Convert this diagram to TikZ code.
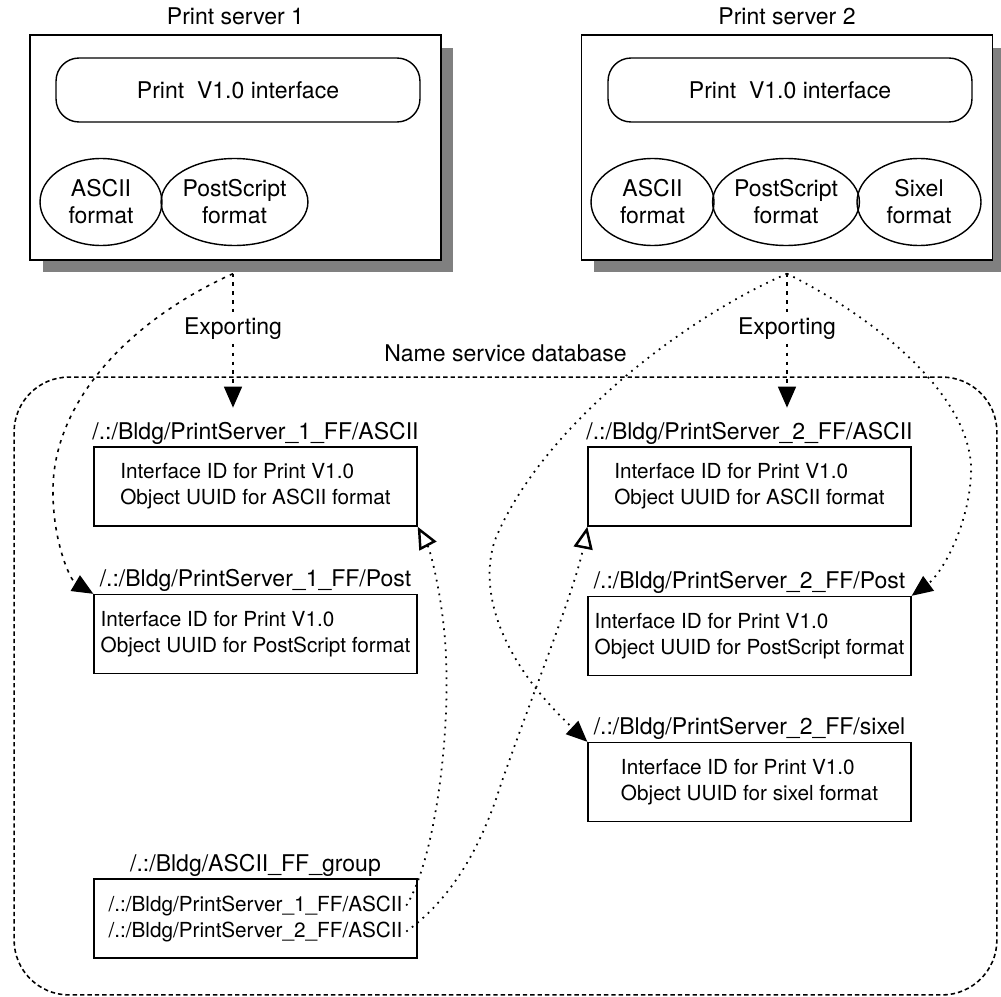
\documentclass[tikz,border=0pt]{standalone}
\usepackage{fontspec}
\setmainfont{TeX Gyre Heros}
\usetikzlibrary{positioning,calc}
\usetikzlibrary{arrows.meta,shapes.geometric,shadows}
\definecolor{ShadowGray}{RGB}{128,128,128}
\newcommand{\bigfont}{\fontsize{13.1}{15.3}\selectfont}
\newcommand{\entfont}{\fontsize{11.8}{14.8}\selectfont}
\tikzset{
	srvbox/.style={draw=black,fill=white,line width=0.8pt,minimum width=8.22cm,minimum height=4.5cm,
		drop shadow={shadow xshift=0.25cm,shadow yshift=-0.25cm,fill=ShadowGray,opacity=1}},
	ifbox/.style={draw=black,line width=0.8pt,rounded corners=0.46cm,minimum width=7.28cm,
		minimum height=1.28cm,font=\bigfont},
	fmt/.style={ellipse,draw=black,line width=0.8pt,inner sep=0pt,minimum height=1.74cm,
		align=center,font=\bigfont},
	entry/.style={draw=black,line width=0.8pt,minimum width=6.46cm,minimum height=1.58cm,
		align=left,font=\entfont},
	lbl/.style={inner sep=0pt,font=\bigfont},
	export/.style={line width=0.9pt,dash pattern=on 2pt off 3pt,
		-{Triangle[length=0.42cm,width=0.36cm]}},
	link/.style={line width=1pt,dash pattern=on 1pt off 3pt,
		-{Triangle[length=0.42cm,width=0.36cm]}},
	grplink/.style={line width=1pt,dash pattern=on 1pt off 3pt,
		-{Triangle[open,length=0.44cm,width=0.38cm,line width=1.4pt]}},
	nsdb/.style={draw=black,line width=0.9pt,dash pattern=on 2.5pt off 1.7pt,rounded corners=1.1cm,
		minimum width=19.66cm,minimum height=12.36cm},
}
\begin{document}
\begin{tikzpicture}[x=0.02cm,y=-0.02cm]
	\useasboundingbox (0,0) rectangle (1001,997);
	\node[nsdb] (db) at (505.5,686) {};
	\node[lbl,above=7.8pt of db] (dbl) {Name service database};
	\node[srvbox] (srv1) at (235.5,147.5) {};
	\node[srvbox] (srv2) at (787,147.5) {};
	\node[lbl,above=5pt of srv1] (t1) {Print server 1};
	\node[lbl,above=5pt of srv2] (t2) {Print server 2};
	\node[ifbox] (if1) at (238,90) {Print~~V1.0 interface};
	\node[ifbox] (if2) at (790,90) {Print~~V1.0 interface};
	\node[fmt,minimum width=2.44cm] (asc1) at (101,202) {ASCII\\format};
	\node[fmt,minimum width=2.7cm] (ps1) at (234.5,202) {PostScript\\format};
	\node[fmt,minimum width=2.46cm] (asc2) at (652.5,202) {ASCII\\format};
	\node[fmt,minimum width=2.64cm] (ps2) at (786,202) {PostScript\\format};
	\node[fmt,minimum width=2.48cm] (six2) at (919,202) {Sixel\\format};
	\node[entry] (ps1ascii) at (255.5,486.5) {Interface ID for Print V1.0\\Object UUID for ASCII format};
	\node[entry] (ps1post) at (255.5,634) {Interface ID for Print V1.0\\Object UUID for PostScript format};
	\node[entry] (ps2ascii) at (749.5,486.5) {Interface ID for Print V1.0\\Object UUID for ASCII format};
	\node[entry] (ps2post) at (749.5,636) {Interface ID for Print V1.0\\Object UUID for PostScript format};
	\node[entry] (ps2sixel) at (749.5,782) {Interface ID for Print V1.0\\Object UUID for sixel format};
	\node[entry] (grp) at (255.5,918.5) {};
	\node[font=\entfont,inner sep=2pt,anchor=base] (gl1) at (255.5,911) {/.:/Bldg/PrintServer\_1\_FF/ASCII};
	\node[font=\entfont,inner sep=2pt,anchor=base] (gl2) at (255.5,937) {/.:/Bldg/PrintServer\_2\_FF/ASCII};
	\node[lbl,above=1pt of ps1ascii] (ps1ascii-l) {/.:/Bldg/PrintServer\_1\_FF/ASCII};
	\node[lbl,above=1pt of ps1post] (ps1post-l) {/.:/Bldg/PrintServer\_1\_FF/Post};
	\node[lbl,above=1pt of ps2ascii] (ps2ascii-l) {/.:/Bldg/PrintServer\_2\_FF/ASCII};
	\node[lbl,above=1pt of ps2post] (ps2post-l) {/.:/Bldg/PrintServer\_2\_FF/Post};
	\node[lbl,above=1pt of ps2sixel] (ps2sixel-l) {/.:/Bldg/PrintServer\_2\_FF/sixel};
	\node[lbl,above=1pt of grp] (grp-l) {/.:/Bldg/ASCII\_FF\_group};
	\coordinate (x1) at ([xshift=-0.05cm,yshift=-0.26cm]srv1.south);
	\coordinate (x2) at ([yshift=-0.26cm]srv2.south);
	\draw[export,shorten >=0.28cm] (x1) -- node[pos=0.37,fill=white,font=\bigfont,inner sep=1pt] (exp1) {Exporting} (x1 |- ps1ascii-l.north);
	\draw[export,shorten >=0.28cm] (x2) -- node[pos=0.37,fill=white,font=\bigfont,inner sep=1pt] (exp2) {Exporting} (x2 |- ps2ascii-l.north);
	\draw[export] (x1) .. controls (130,320) and (55,400) .. (53,487)
		.. controls (52,540) and (70,580) .. (ps1post.north west);
	\draw[link] (x2) .. controls (680,320) and (540,430) .. (495,540)
		.. controls (478,590) and (500,660) .. (ps2sixel.north west);
	\draw[link] (x2) .. controls (880,320) and (975,400) .. (971,475)
		.. controls (968,530) and (940,575) .. (ps2post.north east);
	\draw[grplink] (gl1.east) .. controls (435,860) and (452,730) .. (445,640)
		.. controls (441,590) and (430,550) .. (ps1ascii.south east);
	\draw[grplink] (gl2.east) .. controls (450,900) and (480,850) .. (500,787)
		.. controls (530,700) and (575,590) .. (ps2ascii.south west);
\end{tikzpicture}
\end{document}
